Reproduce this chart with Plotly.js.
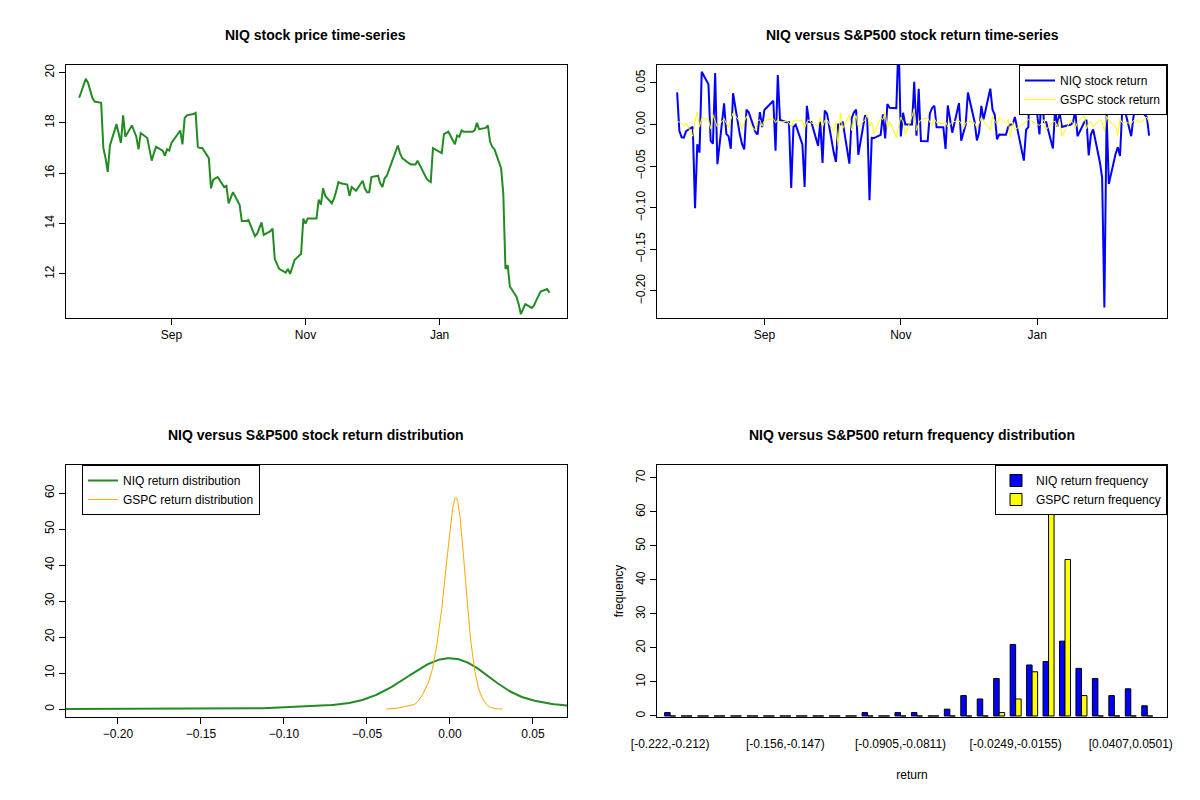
<!DOCTYPE html>
<html><head><meta charset="utf-8">
<script src="https://cdn.plot.ly/plotly-3.0.1.min.js"></script>
<style>body{margin:0;background:#fff}#plot{width:1200px;height:800px}</style>
</head><body><div id="plot"></div>
<script>
// NIQ closing prices
const niqPrice = [19.0,19.75,19.6,19.3,19.0,18.85,18.8,17.0,16.6,16.05,17.1,17.95,17.6,17.2,18.3,17.45,17.9,17.7,17.45,16.95,
  17.6,17.4,17.0,16.5,16.8,17.05,16.9,16.7,16.95,16.9,17.2,17.7,17.15,18.2,18.3,18.35,18.4,17.05,17.0,17.0,
  16.6,15.4,15.75,15.8,15.85,15.45,15.5,14.8,15.05,15.25,14.75,14.1,14.1,14.1,14.15,13.5,13.6,13.8,14.05,13.55,
  13.7,13.8,12.6,12.4,12.2,12.05,12.2,12.0,12.3,12.55,12.8,14.2,14.0,14.2,14.2,14.2,14.95,14.75,15.4,15.1,
  14.8,15.0,15.3,15.65,15.6,15.55,15.1,15.45,15.3,15.7,15.4,15.25,15.25,15.85,15.9,15.6,15.45,15.8,15.9,16.6,
  16.9,17.1,16.8,16.6,16.4,16.35,16.35,16.35,16.5,15.8,15.7,15.65,17.0,16.8,17.55,17.6,17.65,17.15,17.5,17.45,
  17.7,17.65,17.65,17.7,18.0,17.75,17.8,17.9,17.25,17.05,16.95,16.2,15.2,12.2,12.35,11.5,11.1,10.8,10.4,10.6,
  10.8,10.65,10.75,10.95,11.1,11.3,11.4,11.25];
// S&P500 daily returns (yellow line)
const gspcRet = [0.004,0.003,0.001,-0.002,0.002,-0.014,0.004,0.015,-0.003,0.008,0.006,-0.005,0.012,0.004,-0.003,0.007,0.002,-0.004,0.006,0.014,
  0.004,-0.006,0.003,0.010,0.002,-0.007,0.004,0.006,-0.002,0.005,0.007,0.002,0.006,0.003,0.004,0.002,-0.003,0.005,0.005,0.005,
  -0.004,0.003,0.006,0.002,-0.002,0.009,-0.003,0.005,0.006,-0.008,0.003,-0.026,0.014,-0.005,0.012,-0.007,0.004,0.011,-0.003,0.006,
  0.012,-0.002,0.003,-0.011,0.008,0.006,0.015,-0.005,0.004,-0.016,-0.002,0.009,0.003,-0.012,0.010,0.019,-0.007,0.002,0.006,0.008,
  0.003,-0.001,0.007,0.002,0.001,0.004,-0.003,0.003,0.005,0.001,-0.005,0.002,0.004,0.002,-0.004,0.001,0.009,0.004,-0.006,0.010,
  0.004,0.001,0.008,0.002,0.006,-0.015,0.003,-0.006,0.001,0.004,0.006,0.005,-0.001,0.002,0.006,-0.006,0.003,0.004,-0.003,0.007,
  -0.014,0.005,0.002,-0.004,0.003,0.011,-0.005,0.002,0.003,-0.003,0.006,0.003,-0.008,0.010,0.004,-0.002,-0.013,0.007,0.002,0.003,
  0.001,0.005,0.004,0.006,0.002,0.009,0.003];
// return frequency counts per bin (bottom-right panel)
const niqFreq  = [1,0,0,0,0,0,0,0,0,0,0,0,1,0,1,1,0,2,6,5,11,21,15,16,22,14,11,6,8,3];
const gspcFreq = [0,0,0,0,0,0,0,0,0,0,0,0,0,0,0,0,0,0,0,0,1,5,13,73,46,6,0,0,0,0];
const binTickPos  = [0,7,14,21,28];
const binTickText = ["[-0.222,-0.212)","[-0.156,-0.147)","[-0.0905,-0.0811)","[-0.0249,-0.0155)","[0.0407,0.0501)"];
const holidays = ["2023-09-04","2023-11-23","2023-12-25","2024-01-01","2024-01-15"];

// trading dates: weekdays from 2023-07-21, skipping market holidays
const dates = [];
for (let d = new Date(Date.UTC(2023,6,21)); dates.length < niqPrice.length; d.setUTCDate(d.getUTCDate()+1)) {
  const w = d.getUTCDay(), s = d.toISOString().slice(0,10);
  if (w !== 0 && w !== 6 && !holidays.includes(s)) dates.push(s);
}
const niqRet = niqPrice.slice(1).map((p,i) => Math.log(p/niqPrice[i]));
const retDates = dates.slice(1);

// gaussian kernel density, R-style bw.nrd0 with an adjust factor
function kde(xs, adjust) {
  const n = xs.length, m = xs.reduce((a,b)=>a+b,0)/n;
  const sd = Math.sqrt(xs.reduce((a,b)=>a+(b-m)**2,0)/(n-1));
  const s = xs.slice().sort((a,b)=>a-b), q = p => { const h=(n-1)*p, l=Math.floor(h); return s[l]+(h-l)*((s[l+1]??s[l])-s[l]); };
  const bw = adjust*0.9*Math.min(sd,(q(0.75)-q(0.25))/1.34)*Math.pow(n,-0.2);
  const lo = s[0]-3*bw, hi = s[n-1]+3*bw, gx = [], gy = [];
  for (let i=0;i<512;i++) {
    const x = lo+(hi-lo)*i/511; let t=0;
    for (const v of xs) t += Math.exp(-0.5*((x-v)/bw)**2);
    gx.push(x); gy.push(t/(n*bw*Math.sqrt(2*Math.PI)));
  }
  return {x:gx,y:gy};
}
const dN = kde(niqRet,1.9), dG = kde(gspcRet,2.1);
const bins = niqFreq.map((_,i)=>i);

const FONT = "Liberation Sans, Arial, sans-serif";
const frame = {showline:true,mirror:true,linecolor:"#000",linewidth:1,ticks:"outside",ticklen:6,
  tickcolor:"#000",showgrid:false,zeroline:false,tickfont:{size:12,color:"#000"}};
const ax = (o) => Object.assign({}, frame, o);
const dateX = (a) => ax({anchor:a, type:"date", range:["2023-07-15","2024-02-28"],
  tickvals:["2023-09-01","2023-11-01","2024-01-01"], ticktext:["Sep","Nov","Jan"]});

const traces = [
  {x:dates,y:niqPrice,type:"scatter",mode:"lines",line:{color:"#228B22",width:2},xaxis:"x",yaxis:"y",showlegend:false},
  {x:retDates,y:niqRet,type:"scatter",mode:"lines",line:{color:"#0000FF",width:2,simplify:false},xaxis:"x2",yaxis:"y2",name:"NIQ stock return",legend:"legend"},
  {x:retDates,y:gspcRet,type:"scatter",mode:"lines",line:{color:"#FFFF00",width:1,simplify:false},xaxis:"x2",yaxis:"y2",name:"GSPC stock return",legend:"legend"},
  {x:dN.x,y:dN.y,type:"scatter",mode:"lines",line:{color:"#228B22",width:2},xaxis:"x3",yaxis:"y3",name:"NIQ return distribution",legend:"legend2"},
  {x:dG.x,y:dG.y,type:"scatter",mode:"lines",line:{color:"#FFA500",width:1},xaxis:"x3",yaxis:"y3",name:"GSPC return distribution",legend:"legend2"},
  {x:bins,y:niqFreq,type:"bar",marker:{color:"#0000FF",line:{color:"#000",width:1}},xaxis:"x4",yaxis:"y4",name:"NIQ return frequency",legend:"legend3"},
  {x:bins,y:gspcFreq,type:"bar",marker:{color:"#FFFF00",line:{color:"#000",width:1}},xaxis:"x4",yaxis:"y4",name:"GSPC return frequency",legend:"legend3"},
];

const W=1200,H=800, px=(a,b)=>[a/W,b/W], py=(t,b)=>[1-b/H,1-t/H];
const title = (t,x,y) => ({text:`<b>${t}</b>`,x,y,xref:"paper",yref:"paper",showarrow:false,font:{size:14,color:"#000"},xanchor:"center",yanchor:"middle"});
const leg = (x,y) => ({x,y,xanchor:"right",yanchor:"top",bgcolor:"#fff",bordercolor:"#000",borderwidth:1,font:{size:12,color:"#000"},tracegroupgap:0});

const layout = {
  width:W,height:H,paper_bgcolor:"#fff",plot_bgcolor:"#fff",font:{family:FONT,color:"#000"},
  margin:{l:0,r:0,t:0,b:0},barmode:"group",bargap:0.33,bargroupgap:0,
  xaxis:Object.assign(dateX("y"),{domain:px(66,567)}),
  yaxis:ax({anchor:"x",domain:py(65,318),range:[10.25,20.3],tickvals:[12,14,16,18,20],tickangle:-90}),
  xaxis2:Object.assign(dateX("y2"),{domain:px(657,1167)}),
  yaxis2:ax({anchor:"x2",domain:py(65,318),range:[-0.2325,0.0716],tickvals:[-0.2,-0.15,-0.1,-0.05,0,0.05],tickformat:".2f",tickangle:-90}),
  xaxis3:ax({anchor:"y3",domain:px(66,567),range:[-0.2313,0.0705],tickvals:[-0.2,-0.15,-0.1,-0.05,0,0.05],tickformat:".2f"}),
  yaxis3:ax({anchor:"x3",domain:py(465,717),range:[-2.2,67.8],tickvals:[0,10,20,30,40,50,60],tickangle:-90}),
  xaxis4:ax({anchor:"y4",domain:px(657,1167),range:[-0.8,30.2],tickvals:binTickPos,ticktext:binTickText,ticks:"",
    ticklabelstandoff:16,title:{text:"return",font:{size:12},standoff:20}}),
  yaxis4:ax({anchor:"x4",domain:py(465,717),range:[-0.3,73.8],tickvals:[0,10,20,30,40,50,60,70],tickangle:-90,
    title:{text:"frequency",font:{size:12}}}),
  legend:leg(1167/W,1-65/H),
  legend2:Object.assign(leg(260/W,1-465/H),{xanchor:"right"}),
  legend3:leg(1167/W,1-465/H),
  annotations:[title("NIQ stock price time-series",316/W,1-35/H),title("NIQ versus S&amp;P500 stock return time-series",912/W,1-35/H),
    title("NIQ versus S&amp;P500 stock return distribution",316/W,1-435/H),title("NIQ versus S&amp;P500 return frequency distribution",912/W,1-435/H)],
};
Plotly.newPlot("plot",traces,layout,{displayModeBar:false,staticPlot:true});
</script></body></html>
